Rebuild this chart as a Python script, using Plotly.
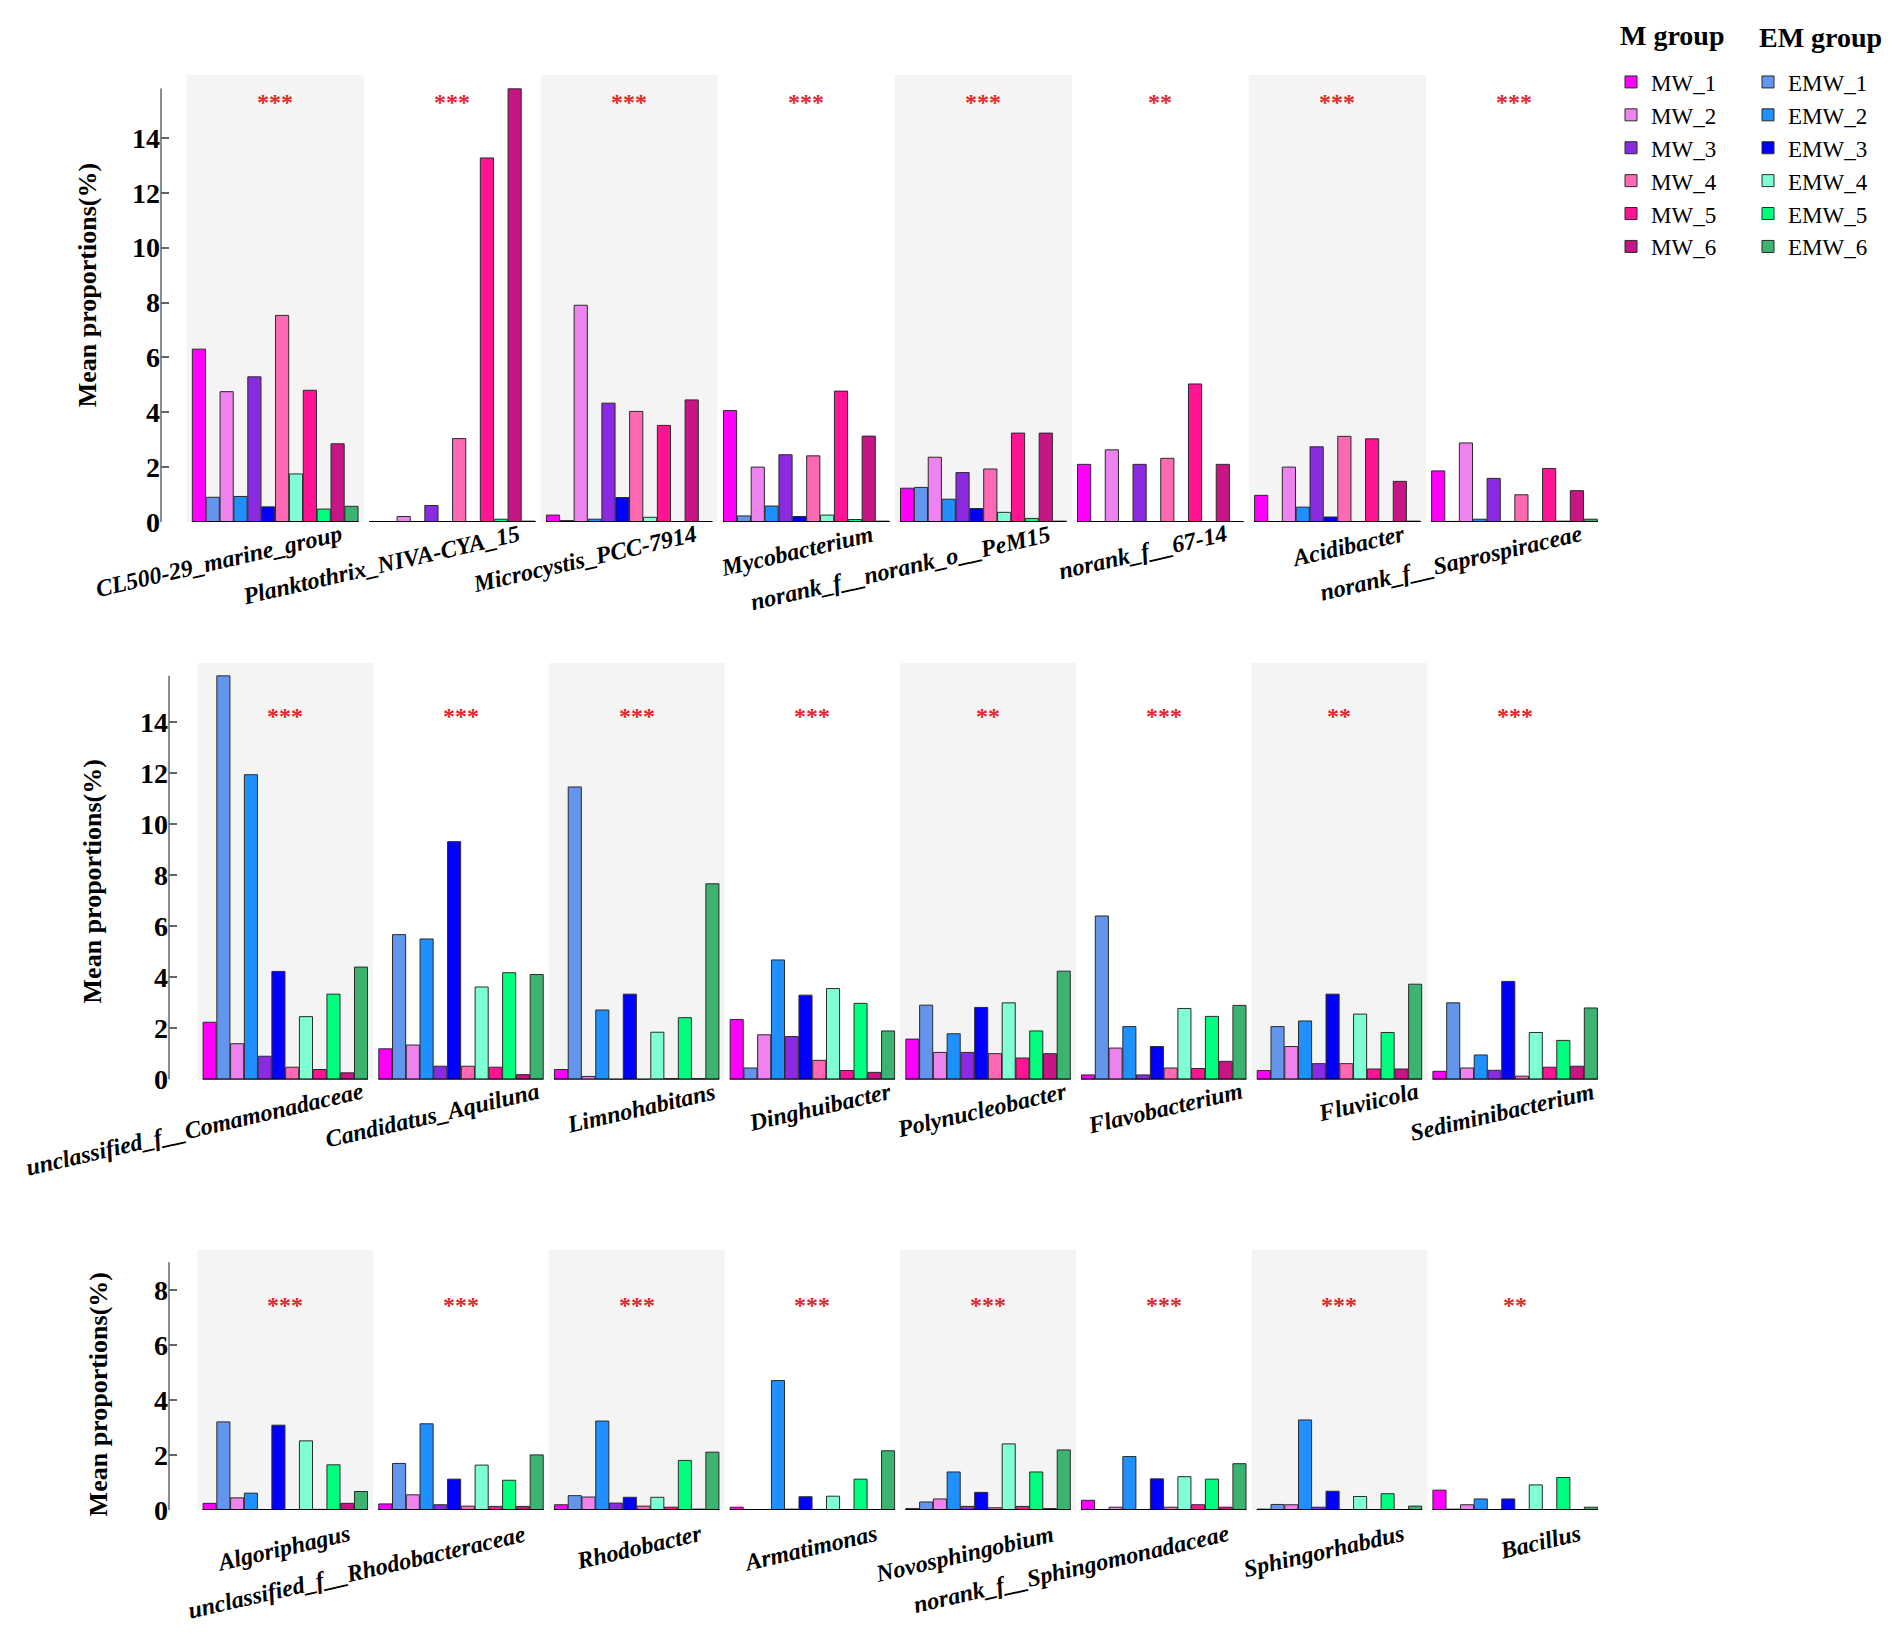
import plotly.graph_objects as go
from plotly.subplots import make_subplots

# ---- data (mean proportions, %) ----
series = ["MW_1", "EMW_1", "MW_2", "EMW_2", "MW_3", "EMW_3",
          "MW_4", "EMW_4", "MW_5", "EMW_5", "MW_6", "EMW_6"]

colors = {
    "MW_1": "#FF00FF", "EMW_1": "#6495ED",
    "MW_2": "#EE82EE", "EMW_2": "#1E90FF",
    "MW_3": "#8A2BE2", "EMW_3": "#0000FF",
    "MW_4": "#FF69B4", "EMW_4": "#7FFFD4",
    "MW_5": "#FF1493", "EMW_5": "#00FF7F",
    "MW_6": "#C71585", "EMW_6": "#3CB371",
}

row1_genera = ["CL500-29_marine_group", "Planktothrix_NIVA-CYA_15", "Microcystis_PCC-7914",
               "Mycobacterium", "norank_f__norank_o__PeM15", "norank_f__67-14",
               "Acidibacter", "norank_f__Saprospiraceae"]
row1_sig = ["***", "***", "***", "***", "***", "**", "***", "***"]
row1_values = {
    "MW_1": [6.30, 0, 0.25, 4.06, 1.23, 2.10, 0.97, 1.86],
    "EMW_1": [0.90, 0, 0.05, 0.22, 1.26, 0, 0, 0.02],
    "MW_2": [4.75, 0.20, 7.90, 2.00, 2.36, 2.63, 2.00, 2.88],
    "EMW_2": [0.93, 0, 0.10, 0.58, 0.83, 0, 0.54, 0.10],
    "MW_3": [5.29, 0.60, 4.33, 2.45, 1.80, 2.10, 2.74, 1.59],
    "EMW_3": [0.55, 0, 0.89, 0.20, 0.49, 0, 0.18, 0.02],
    "MW_4": [7.53, 3.04, 4.03, 2.41, 1.93, 2.32, 3.12, 0.99],
    "EMW_4": [1.75, 0, 0.17, 0.25, 0.35, 0, 0, 0.02],
    "MW_5": [4.80, 13.27, 3.52, 4.77, 3.24, 5.03, 3.03, 1.95],
    "EMW_5": [0.47, 0.10, 0, 0.09, 0.13, 0, 0, 0.03],
    "MW_6": [2.85, 15.79, 4.45, 3.13, 3.24, 2.10, 1.48, 1.14],
    "EMW_6": [0.57, 0.03, 0, 0.03, 0.03, 0, 0.03, 0.10],
}

row2_genera = ["unclassified_f__Comamonadaceae", "Candidatus_Aquiluna", "Limnohabitans",
               "Dinghuibacter", "Polynucleobacter", "Flavobacterium", "Fluviicola",
               "Sediminibacterium"]
row2_sig = ["***", "***", "***", "***", "**", "***", "**", "***"]
row2_values = {
    "MW_1": [2.24, 1.20, 0.39, 2.35, 1.58, 0.18, 0.35, 0.32],
    "EMW_1": [15.80, 5.67, 11.45, 0.45, 2.91, 6.40, 2.07, 3.00],
    "MW_2": [1.40, 1.35, 0.12, 1.75, 1.06, 1.23, 1.29, 0.45],
    "EMW_2": [11.93, 5.50, 2.72, 4.68, 1.79, 2.07, 2.29, 0.96],
    "MW_3": [0.91, 0.52, 0, 1.68, 1.06, 0.18, 0.62, 0.36],
    "EMW_3": [4.23, 9.31, 3.34, 3.30, 2.82, 1.29, 3.34, 3.84],
    "MW_4": [0.48, 0.52, 0, 0.75, 1.01, 0.45, 0.62, 0.13],
    "EMW_4": [2.46, 3.62, 1.85, 3.56, 3.00, 2.78, 2.56, 1.84],
    "MW_5": [0.39, 0.48, 0.03, 0.35, 0.84, 0.43, 0.41, 0.48],
    "EMW_5": [3.34, 4.18, 2.42, 2.98, 1.90, 2.47, 1.84, 1.53],
    "MW_6": [0.26, 0.19, 0.03, 0.28, 1.01, 0.71, 0.41, 0.52],
    "EMW_6": [4.40, 4.11, 7.66, 1.90, 4.24, 2.90, 3.73, 2.80],
}

row3_genera = ["Algoriphagus", "unclassified_f__Rhodobacteraceae", "Rhodobacter",
               "Armatimonas", "Novosphingobium", "norank_f__Sphingomonadaceae",
               "Sphingorhabdus", "Bacillus"]
row3_sig = ["***", "***", "***", "***", "***", "***", "***", "**"]
row3_values = {
    "MW_1": [0.24, 0.22, 0.19, 0.10, 0.05, 0.35, 0.03, 0.72],
    "EMW_1": [3.20, 1.69, 0.52, 0, 0.29, 0, 0.20, 0.03],
    "MW_2": [0.44, 0.55, 0.47, 0, 0.40, 0.10, 0.19, 0.19],
    "EMW_2": [0.61, 3.13, 3.23, 4.70, 1.38, 1.94, 3.27, 0.40],
    "MW_3": [0, 0.19, 0.25, 0.03, 0.13, 0, 0.10, 0],
    "EMW_3": [3.08, 1.12, 0.46, 0.48, 0.64, 1.13, 0.68, 0.40],
    "MW_4": [0, 0.14, 0.14, 0.02, 0.08, 0.10, 0, 0],
    "EMW_4": [2.51, 1.63, 0.46, 0.50, 2.40, 1.21, 0.49, 0.91],
    "MW_5": [0.02, 0.13, 0.10, 0, 0.13, 0.19, 0, 0],
    "EMW_5": [1.64, 1.08, 1.80, 1.12, 1.38, 1.12, 0.59, 1.18],
    "MW_6": [0.24, 0.13, 0.03, 0, 0.05, 0.10, 0, 0],
    "EMW_6": [0.67, 2.00, 2.10, 2.15, 2.18, 1.68, 0.14, 0.10],
}

y_ticks_big = [0, 2, 4, 6, 8, 10, 12, 14]
y_ticks_small = [0, 2, 4, 6, 8]

# ---- page geometry (pixels) ----
W, H = 1894, 1647
SERIF = "Liberation Serif"

rows = [
    dict(genera=row1_genera, values=row1_values, sig=row1_sig, ticks=y_ticks_big,
         ymax=16.3, axis_top=15.8, star=15.45, xpx=(153, 1595), ypx=(519, 67.5),
         x0=-0.645, title_xy=(79, 280), lab_shift=(72, 4)),
    dict(genera=row2_genera, values=row2_values, sig=row2_sig, ticks=y_ticks_big,
         ymax=16.3, axis_top=15.8, star=14.4, xpx=(161, 1595), ypx=(1082, 661.5),
         x0=-0.662, title_xy=(84, 882), lab_shift=(84, 4)),
    dict(genera=row3_genera, values=row3_values, sig=row3_sig, ticks=y_ticks_small,
         ymax=9.45, axis_top=9.0, star=7.6, xpx=(161, 1595), ypx=(1516.7, 1254),
         x0=-0.662, title_xy=(90, 1400), lab_shift=(70, -8)),
]

fig = make_subplots(rows=3, cols=1)

shapes = []
annotations = []
for r, row in enumerate(rows):
    n = "" if r == 0 else str(r + 1)
    for s in series:
        fig.add_trace(go.Bar(
            x=row["genera"], y=row["values"][s], name=s,
            marker=dict(color=colors[s], line=dict(color="#2a2a2a", width=1)),
            legend="legend" if s.startswith("MW") else "legend2",
            legendgroup=s, showlegend=(r == 0),
        ), row=r + 1, col=1)

    fig.update_layout(**{
        "xaxis" + n: dict(domain=[row["xpx"][0] / W, row["xpx"][1] / W],
                          range=[row["x0"], 7.5], type="category",
                          showticklabels=False, ticks="", showline=False,
                          showgrid=False, zeroline=False),
        "yaxis" + n: dict(domain=[1 - row["ypx"][0] / H, 1 - row["ypx"][1] / H],
                          range=[0, row["ymax"]], tickvals=row["ticks"],
                          ticks="inside", ticklen=8, tickwidth=1.5, tickcolor="#666",
                          showline=False, showgrid=False, zeroline=False,
                          tickfont=dict(family=SERIF, size=28, color="black", weight="bold")),
    })

    # alternating grey panels and per-panel baselines
    dx, dy = row["lab_shift"]
    for i, g in enumerate(row["genera"]):
        if i % 2 == 0:
            shapes.append(dict(type="rect", xref="x" + n, yref="y" + n,
                               x0=i - 0.5, x1=i + 0.5, y0=0, y1=row["ymax"],
                               fillcolor="#F4F4F4", line=dict(width=0), layer="below"))
        shapes.append(dict(type="line", xref="x" + n, yref="y" + n,
                           x0=i - 0.47, x1=i + 0.47, y0=0, y1=0,
                           line=dict(color="black", width=2)))
        annotations.append(dict(x=g, y=row["star"], xref="x" + n, yref="y" + n,
                                text=row["sig"][i], showarrow=False, yshift=-4,
                                xanchor="center", yanchor="middle",
                                font=dict(family=SERIF, size=24, color="#E0282E",
                                          weight="bold")))
        annotations.append(dict(x=g, y=0, xref="x" + n, yref="y" + n,
                                text=g, showarrow=False, textangle=-13,
                                xanchor="right", yanchor="top", xshift=dx, yshift=dy,
                                font=dict(family=SERIF, size=24, color="black",
                                          weight="bold", style="italic")))
    # y axis line
    shapes.append(dict(type="line", xref="x" + n + " domain", yref="y" + n,
                       x0=0, x1=0, y0=0, y1=row["axis_top"],
                       line=dict(color="#666", width=1.5)))
    tx, ty = row["title_xy"]
    annotations.append(dict(x=tx / W, y=1 - ty / H, xref="paper", yref="paper",
                            xanchor="center", yanchor="middle",
                            text="Mean proportions(%)", textangle=-90, showarrow=False,
                            font=dict(family=SERIF, size=26, color="black", weight="bold")))

# legend group titles
annotations.append(dict(x=1664 / W, y=1 - 28 / H, xref="paper", yref="paper",
                        xanchor="center", yanchor="middle",
                        text="M group", showarrow=False,
                        font=dict(family=SERIF, size=28, color="black", weight="bold")))
annotations.append(dict(x=1812 / W, y=1 - 30 / H, xref="paper", yref="paper",
                        xanchor="center", yanchor="middle",
                        text="EM group", showarrow=False,
                        font=dict(family=SERIF, size=28, color="black", weight="bold")))

legend_style = dict(font=dict(family=SERIF, size=23, color="black"),
                    bgcolor="rgba(0,0,0,0)", borderwidth=0,
                    xanchor="left", yanchor="top", y=1 - 53 / H, traceorder="normal")

fig.update_layout(
    width=W, height=H,
    margin=dict(l=0, r=0, t=0, b=0),
    paper_bgcolor="white", plot_bgcolor="rgba(0,0,0,0)",
    barmode="group", bargap=0.06, bargroupgap=0.05,
    shapes=shapes, annotations=annotations,
    legend=dict(x=1603 / W, **legend_style),
    legend2=dict(x=1740 / W, **legend_style),
    showlegend=True,
)

fig.write_html("out.html")
